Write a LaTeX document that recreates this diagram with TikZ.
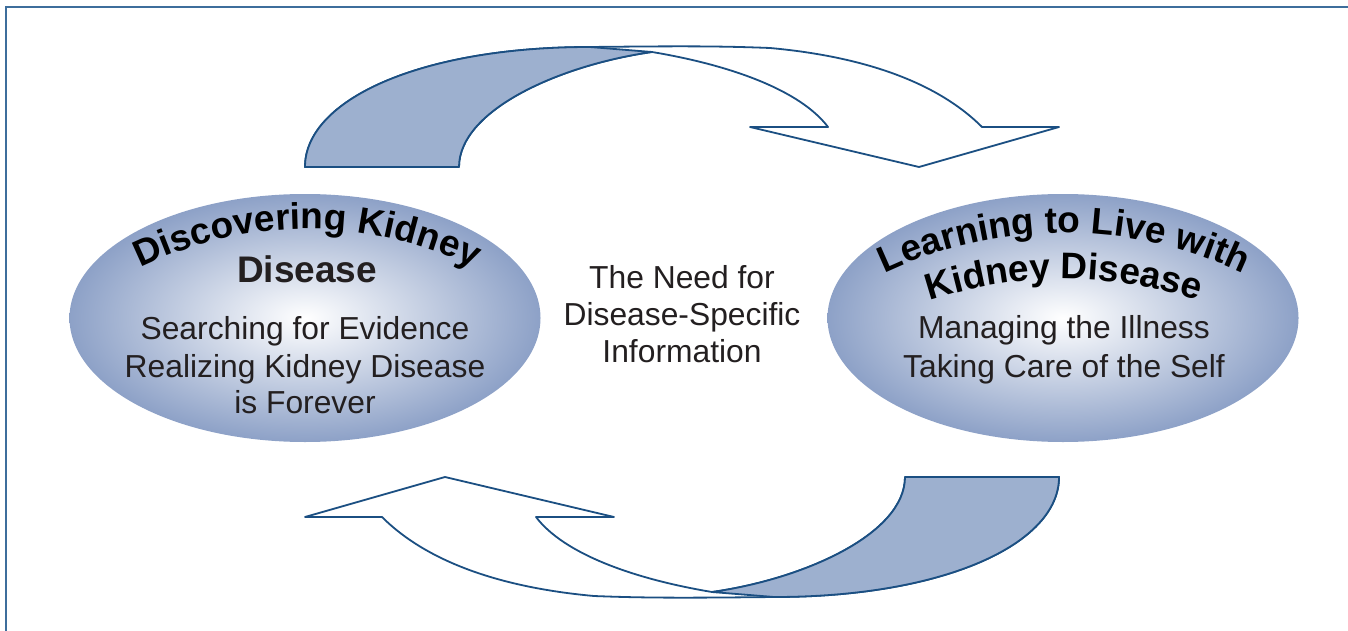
\documentclass[tikz,border=0pt]{standalone}
\usepackage{fontspec}
\setmainfont{Liberation Sans}
\usetikzlibrary{shapes.geometric,decorations.text}
\definecolor{edgeblue}{HTML}{1B4F82}
\definecolor{bandblue}{HTML}{9DB0CF}
\definecolor{ovalblue}{HTML}{8DA1C7}
\definecolor{frameblue}{HTML}{3D6E9C}
\definecolor{ink}{HTML}{231F20}
\newcommand{\subfnt}{\fontsize{31.8}{37}\selectfont}
\newcommand{\ttlfnt}{\fontsize{37}{40}\selectfont\bfseries}
\newcommand{\loopArrow}{%
  \draw[arrowbody] (305,167) .. controls (305,100) and (420,47) .. (590,47)
    .. controls (680,46) and (720,46) .. (770,48)
    .. controls (880,58) and (945,90) .. (982,127)
    -- (1059,127) -- (919,167) -- (750,127) -- (828,127)
    .. controls (800,90) and (730,65) .. (652,52)
    .. controls (560,65) and (459,110) .. (459,167) -- cycle;
  \draw[arrowband] (305,167) .. controls (305,100) and (420,47) .. (590,47)
    -- (652,52) .. controls (560,65) and (459,110) .. (459,167) -- cycle;
}
\begin{document}
\begin{tikzpicture}[x=1pt,y=-1pt,
  oval/.style={ellipse, minimum width=471pt, minimum height=248pt, inner sep=0pt,
    shading=radial, inner color=white, outer color=ovalblue, draw=none},
  subtext/.style={anchor=base, font=\subfnt, text=ink, inner sep=0pt},
  ttltext/.style={anchor=base, font=\ttlfnt, text=ink, inner sep=0pt},
  arrowbody/.style={fill=white, draw=edgeblue, line width=1.8pt, line join=round},
  arrowband/.style={fill=bandblue, draw=edgeblue, line width=1.8pt, line join=round},
  frameline/.style={draw=frameblue, line width=2pt},
  curvedtitle/.style={decorate, decoration={text along path, text align=center,
    text={|\ttlfnt|#1}}}
]
\useasboundingbox (0,0) rectangle (1348,631);
\draw[frameline] (1348,7) -- (6,7) -- (6,631);

% arrows
\loopArrow
\begin{scope}[rotate around={180:(682,322)}]
\loopArrow
\end{scope}

% ovals
\node[oval] (left) at (305,318) {};
\node[oval] (right) at (1063,318) {};

% left titles
\path[curvedtitle={Discovering Kidney}] (307,606) ++(-122:377)
  arc[start angle=-122, end angle=-58, radius=377];
\node[ttltext] (ltitle2) at (307,282) {Disease};
\node[subtext] (l1) at (305,339) {Searching for Evidence};
\node[subtext] (l2) at (305,377) {Realizing Kidney Disease};
\node[subtext] (l3) at (305,413) {is Forever};

% center
\node[subtext] (c1) at (682,288) {The Need for};
\node[subtext] (c2) at (682,325) {Disease-Specific};
\node[subtext] (c3) at (682,362) {Information};

% right titles
\path[curvedtitle={Learning to Live with}] (1064,652) ++(-118:419)
  arc[start angle=-118, end angle=-62, radius=419];
\path[curvedtitle={Kidney Disease}] (1064,704) ++(-110:425)
  arc[start angle=-110, end angle=-70, radius=425];
\node[subtext] (r1) at (1064,338) {Managing the Illness};
\node[subtext] (r2) at (1064,377) {Taking Care of the Self};
\end{tikzpicture}
\end{document}
